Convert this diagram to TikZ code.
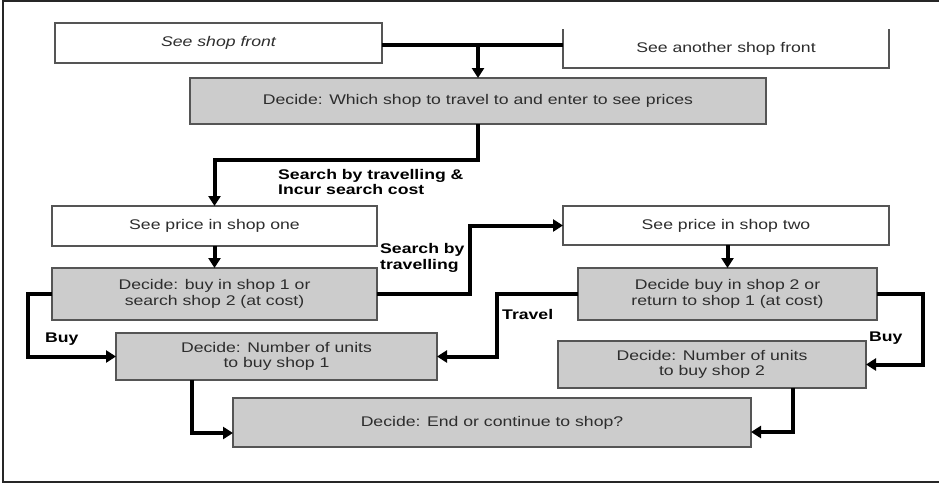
\documentclass[tikz,border=0pt]{standalone}
\usepackage{fontspec}
\setmainfont{Liberation Sans}[FakeStretch=1.26]
\usetikzlibrary{arrows.meta}
\definecolor{boxfill}{RGB}{204,204,204}
\definecolor{boxline}{RGB}{85,85,85}
\definecolor{txt}{RGB}{45,45,45}
\tikzset{
  box/.style={draw=boxline, line width=1.5pt, fill=white, inner sep=0pt, outer sep=0pt,
    text=txt, align=center, font=\fontsize{14}{15.5}\selectfont},
  gbox/.style={box, fill=boxfill},
  conn/.style={line width=4pt, line join=miter, -{Triangle[length=10pt,width=12pt]}},
  plain/.style={line width=4pt, line join=miter},
  lbl/.style={inner sep=0pt, anchor=west, align=left, text=black,
    font=\fontsize{14}{15.5}\selectfont\bfseries}
}
\begin{document}
\begin{tikzpicture}[x=1pt,y=-1pt]
\useasboundingbox (0,0) rectangle (939,483);
% frame
\draw[line width=1.5pt, black!85] (939,1) -- (3,1) -- (3,482) -- (939,482);

% boxes
\node[box, minimum width=327pt, minimum height=40pt] (shopfront) at (218.5,43) {\itshape See shop front};
\node[box, draw=none, minimum width=326pt, minimum height=39pt] (another) at (726,48.5) {See another shop front};
\draw[boxline, line width=1.5pt] (another.north west) -- (another.south west) -- (another.south east) -- (another.north east);
\node[gbox, minimum width=576pt, minimum height=46pt] (decide1) at (478,101) {Decide: Which shop to travel to and enter to see prices};
\node[box, minimum width=325pt, minimum height=40pt] (price1) at (214.5,226) {See price in shop one};
\node[box, minimum width=326pt, minimum height=39pt] (price2) at (726,225.5) {See price in shop two};
\node[gbox, minimum width=325pt, minimum height=52pt] (buy1) at (214.5,294) {Decide: buy in shop 1 or\\search shop 2 (at cost)};
\node[gbox, minimum width=299pt, minimum height=52pt] (buy2) at (727.5,294) {Decide buy in shop 2 or\\return to shop 1 (at cost)};
\node[gbox, minimum width=321pt, minimum height=47pt] (units1) at (276.5,356.5) {Decide: Number of units\\to buy shop 1};
\node[gbox, minimum width=308pt, minimum height=47pt] (units2) at (712,364.5) {Decide: Number of units\\to buy shop 2};
\node[gbox, minimum width=518pt, minimum height=49pt] (endbox) at (492,422.5) {Decide: End or continue to shop?};

% helper coordinates
\coordinate (j1) at (478,45);
\coordinate (a1) at (382,45);
\coordinate (a2) at (563,45);
\coordinate (b1) at (478,160);
\coordinate (d1) at (470,225.5);
\coordinate (f1) at (497,356.5);
\coordinate (g1) at (923,364.5);
\coordinate (h1) at (28,356.5);
\coordinate (i1) at (192,380);
\coordinate (i2) at (233,433);
\coordinate (k1) at (793,388);
\coordinate (k2) at (751,432);

% connectors
\draw[plain] (a1) -- (a2);
\draw[conn] (j1) -- (decide1.north);
\draw[conn] (decide1.south) -- (b1) -| (price1.north);
\draw[conn] (price1.south) -- (buy1.north);
\draw[conn] (buy1.east) -| (d1) -- (price2.west);
\draw[conn] (price2.south -| buy2.north) -- (buy2.north);
\draw[conn] (buy2.west) -| (f1) -- (units1.east);
\draw[conn] (buy2.east) -| (g1) -- (units2.east);
\draw[conn] (buy1.west) -| (h1) -- (units1.west);
\draw[conn] (i1) |- (i2);
\draw[conn] (k1) |- (k2);

% labels
\node[lbl] (l1) at (278,182) {Search by travelling \&\\Incur search cost};
\node[lbl] (l2) at (380,258) {Search by\\travelling};
\node[lbl] (l3) at (45,339) {Buy};
\node[lbl] (l4) at (502,314) {Travel};
\node[lbl] (l5) at (869,338) {Buy};
\end{tikzpicture}
\end{document}
